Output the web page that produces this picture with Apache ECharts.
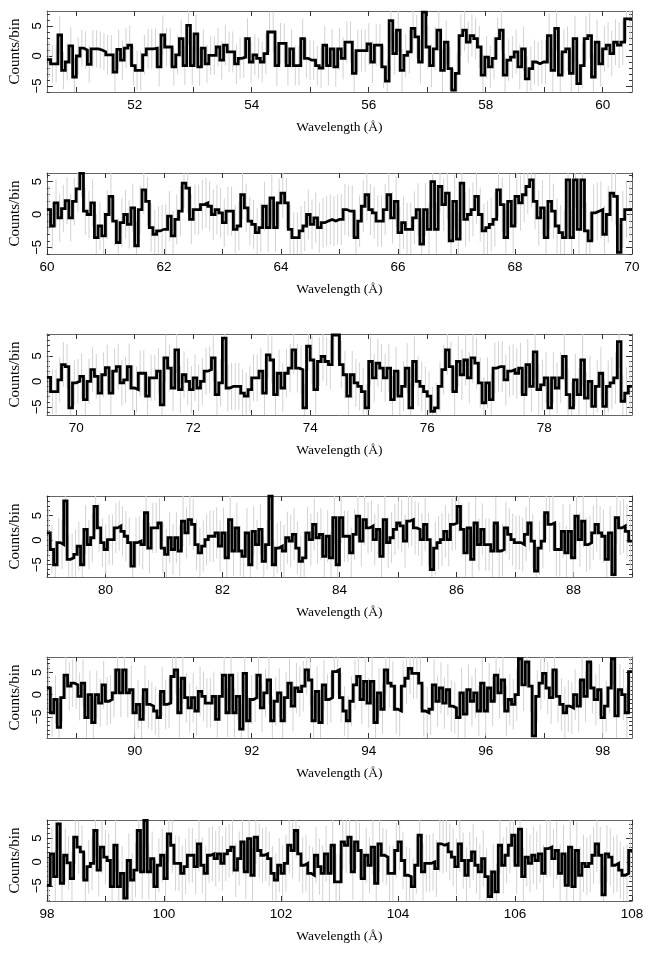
<!DOCTYPE html>
<html><head><meta charset="utf-8">
<script src="https://cdn.jsdelivr.net/npm/echarts@6/dist/echarts.min.js"></script>
<style>html,body{margin:0;padding:0;background:#fff}#c{width:652px;height:953px}</style>
</head><body><div id="c"></div>
<script>
// Panel wavelength starts (each panel spans 10 Å)
const panelStart = [50.5, 60, 69.5, 79, 88.5, 98];
const panelSpan = 10;
// y ranges (Counts/bin)
const yMin = [-6, -6, -6.6, -7.5, -9.8, -8.2];
const yMax = [7.5, 6.3, 9.3, 9, 8.5, 8.8];
const yTickValues = [-5, 0, 5];

// Counts per bin
const counts1 = [-0.6,-1.3,-1.3,3.5,-2.4,-1,1.7,-3.5,0,1.3,1.0,-1.4,1.2,1.2,1.0,0.7,0.2,0.2,-2.7,1.1,-0.7,1.3,1.8,-1.6,-2.4,-2.4,0.2,1.2,1.2,1.3,-1.8,3.5,1.5,1.5,-1.8,0.2,2.9,-1.6,5.1,-1.6,3.7,-1.8,1.3,-1.3,0.1,0.1,1.5,-0.7,1.8,0.7,0.7,-1.3,-0.4,-0.2,2.9,-1,0.2,-0.4,-1,0.4,4,4,-1.6,2.1,2.1,-1.6,1.2,-1.6,-1.6,2.9,-0.4,-0.7,-0.7,-1.6,-2,
1.8,-1.6,1.2,-1.8,1.2,-0.4,2.3,2.3,-2.9,0.9,0.9,0.9,2,-1,1.8,1.8,
-1.8,-4.2,5.9,0.4,4.3,-2.4,0.1,0.7,4.6,3.2,-1,7.3,1.5,-1.6,1.2,4.3,-2.4,2.3,-2.1,-5.7,-2.9,3.4,4.3,2.3,3.4,2.9,1.5,-3.2,-0.2,-1.8,-0.4,2.9,4.3,-3.2,-0.7,-0.2,0.7,-1.8,1.2,-3.8,-2.1,-1,-1.3,-1,-1,3.4,-2.4,4.6,-3.2,0.7,1.2,-2.9,2.9,-4.6,-1.6,2.9,3.4,-3.5,2.3,-1.3,1.2,1.8,0.4,2.3,1.8,2.3,6.2,6.2];
const counts2 = [0.75,-1.75,1.75,-0.5,0.9,2.1,-0.5,2,3.9,6.25,0.5,0,1.75,-3.5,-1.75,-3.25,0,2.75,-1,-4.25,-1.25,0,-1.5,1,-4.75,0.75,3.75,2,-2,-3,-2.5,-2.25,-2.25,-0.25,-3.25,-0.75,0.5,4.75,4,-0.75,0.75,0.75,1.5,1.75,1.25,0,0.75,0.25,-1.25,0.5,0.5,-2.25,-1.75,3,1,-1,-1.5,-2.75,-2,1.25,-2,2.5,-2,1.75,3.25,1.75,-2.25,-3.5,-3.5,-2.5,-1.75,0,-1.5,-0.5,-2,-1.25,-1,-0.75,-1,-0.75,
-0.75,0.75,0.5,0.5,-3.5,-1,1.25,3,0.75,0.25,-1,-1,0.75,3,-0.5,2,-2.75,-1.25,-2.25,-2.25,-0.5,0.75,-4.5,0.75,-2.25,5,-2.25,4.25,1.5,3.25,-4,2,-3.75,4.75,-0.75,0,0.75,2.75,0,-2.5,-2,-1.5,-0.75,3.75,1.5,-3.5,2,-1.75,2.75,1.75,3,4.25,5.25,2,-0.5,1,-3.5,2,0.5,-1.75,-2.75,-3.5,5.25,-3.5,5.25,-2.25,5.25,-2.5,-4,0.25,0.5,0.75,-3,0,3.25,2.75,-5.75,-0.75,0.75,0.75];
const counts3 = [0.8,-2,-2,0.3,3.3,2.9,-5.2,-0.3,0,1,-3.6,0,2.3,1,-2.3,1.3,2.7,-2.3,2,2.9,-0.3,0.3,2.9,-1.3,-1.6,1.6,1.6,-2.9,0.7,0.7,2,-4.6,4.6,2.6,-1.3,6.2,-1.6,1.3,0,-1.6,0.7,-1.3,0,2,2.3,4.6,-2.6,-0.3,8.5,-1.3,-1,-1,-1,-2.3,-2.9,-1.6,0.7,0.7,2,-2.3,5.2,4.2,-2.6,1.6,-1.3,1.6,2.6,6.2,2.6,2.3,-5.2,6.9,4.2,-1.6,3.9,4.9,3.9,3.3,9.1,9.1,
3.3,1.3,-2.9,1.3,-0.3,-1,-2,-5.2,3.9,0.7,3.6,2.6,0.7,2.6,-3.6,2,-2.9,-1,2.6,-5.2,3.9,0,-1,-2,-2.9,-5.9,-5.2,-1,2.3,6.2,2.9,-2,3.9,1.3,4.2,0.7,4.6,3.6,-0.3,-4.2,-0.3,-3.6,2.6,2.9,2.9,0.3,2,2.3,1.6,2.6,-2.6,3.3,-1,5.8,-1.6,-0.7,0.7,-5.2,0.7,-1.3,0.7,4.9,-2.6,-5.2,0.3,-2.6,4.2,-3.3,0,-4.9,-1,1.6,-4.9,-1,-0.3,0.7,7.8,-3.9,-2.3,-1];
const counts4 = [1.5,-1.9,-5,-0.5,-0.9,8,-3.9,-3.6,-2.9,-1.2,-5,2.2,-0.9,0.5,6.9,2.5,-0.5,-1.9,0.1,0.1,2.5,2.9,1.8,0.8,-0.5,-5.3,-0.5,-0.2,-0.9,5.6,-1.6,2.5,2.5,3.5,-1.6,-2.9,0.5,-1.9,0.5,-2.2,3.9,1.5,4.2,3.2,-0.9,-2.6,-1.2,0.1,0.8,0.8,1.5,-1.2,1.5,-3.6,4.2,-2.2,2.5,-2.2,-3.3,1.5,-5,1.8,-0.9,2.2,-4.3,-0.9,9,-5,-1.6,-1.2,-2.2,0.5,-0.2,1.2,-1.6,-4.3,-3.6,1.5,0.1,3.2,0.5,1.2,-3.3,0.8,-3.6,4.6,-5,4.6,
0.8,0.8,-2.6,1.2,4.9,-0.2,4.2,2.5,2.9,0.1,2.2,-3.3,4.2,-0.5,0.5,2.2,3.5,2.9,-0.2,3.9,4.2,2.5,2.2,0.1,3.2,0.1,-6,-1.6,-0.5,0.1,1.8,0.1,3.2,3.5,6.9,2.2,-2.6,2.5,-3.9,3.5,-0.9,2.2,-0.9,-0.9,-2.2,3.5,-2.2,-1.9,2.5,1.2,0.1,-0.5,-0.5,-0.9,1.2,3.5,-0.2,-6.3,-1.6,-0.2,5.6,3.2,3.5,-1.9,-1.9,1.8,-2.6,1.8,-3.6,4.9,0.1,3.9,-0.9,-0.5,1.5,3.2,1.5,0.8,-3.9,1.5,-7,4.6,2.5,2.9,1.8,-0.2];
const counts5 = [1.5,-4.1,-1.1,-7.4,-0.7,4.4,1.9,2.6,2.2,-0.4,2.6,-5.2,0,-6.3,0,-1.9,2.2,-1.5,-1.1,0.4,5.6,0.4,5.6,0.4,1.1,-4.1,-2.2,-5.6,1.1,-2.2,-2.6,-3.7,-5.2,0.7,-2.2,-1.9,4.1,5.6,-4.1,3.7,-0.7,-3,-0.7,-3.7,0.7,-0.4,-1.9,-1.9,-0.4,-5.6,-0.4,4.4,-4.1,4.4,-4.1,-0.4,-7.8,4.8,-5.9,-1.1,-0.7,4.4,-3,0.4,3.3,-5.9,-1.5,0.4,-5.9,-0.7,2.6,-2.6,1.5,0.7,1.9,5.6,3.3,-5.9,0.7,-6.3,2.2,-1.1,-0.7,5.2,
5.6,-0.7,-3.7,-5.9,-1.5,2.2,4.1,-1.1,3,-1.9,3,-6.3,0.4,-3.3,5.6,2.6,1.9,-3.3,-3.7,1.9,3.7,5.9,4.8,4.8,2.6,-3.7,-4.1,-3.3,2.2,-1.5,1.5,-1.9,1.1,-2.6,-3,-5.2,0.4,-4.4,1.1,-1.5,0.4,-3.7,2.6,-3.7,1.5,-1.5,4.4,0.4,3.3,-3.7,-1.1,-2.2,0,8.1,2.2,7.4,1.9,-9.3,-0.4,2.6,4.8,1.5,-0.7,5.6,-0.4,-2.2,-4.1,-2.6,-3,0,-2.6,3.3,-0.4,7.4,1.5,-1.1,1.1,-5.2,-2.6,1.5,8.1,-4.8,1.1,0,-4.1,5.2];
const counts6 = [-4.9,1.7,-3.1,8,-4.5,1.4,-0.2,-3.5,5.2,3.1,2.1,-3.8,-1,-0.3,6.6,-1.7,3.1,1,0.3,-5.2,3.5,-5.2,-2.4,-7.6,0.3,-3.8,-1.7,6.6,-2.1,8.7,-2.1,0.7,-5.2,-0.7,1.4,-3.5,5.9,3.5,-0.3,-0.3,-2.4,-1,1.4,1.4,-1,3.8,-0.7,-2.4,1.4,1.7,0.7,1.7,-0.3,1.7,2.4,3.1,-1.7,0.7,4.2,-2.1,4.9,-2.8,5.2,2.4,1.4,1.7,0.7,-2.4,-3.8,-0.7,-2.4,-0.3,3.5,2.4,6.6,1.7,-0.7,-0.3,-2.4,-2.8,1.4,-1,-2.4,1.7,-2.4,3.5,-4.2,-4.2,
4.2,3.5,5.2,-2.1,4.2,2.4,-3.5,1.4,-0.7,3.1,-4.5,3.8,1.4,1,-2.4,-2.4,2.4,4.2,0.3,-2.8,-3.1,-5.2,-0.7,5.6,-2.1,-0.3,-0.3,0,-1.4,3.8,3.5,3.8,2.1,1,-1,3.8,0.3,-2.8,0.3,2.1,-0.7,-2.1,0.7,-3.1,-7.3,-2.1,-6.3,3.5,-0.7,1.4,3.5,5.6,-0.7,6.9,-3.1,1,-0.3,1.4,0.3,1.7,-2.4,2.8,3.1,0.7,2.4,-2.4,1.7,-4.9,3.1,-5.2,2.4,-2.8,-0.3,-1,-0.3,1.4,3.8,1.4,-6.9,1.7,1,-0.7,-0.3,-1.7,-2.8,-2.4,2.4];

// 1-sigma error per Ångström of each panel (gray error bars)
const err1 = [3.1,3.3,3.2,3.4,3.3,3.5,3.6,3.5,3.7,3.8];
const err2 = [3.6,3.7,3.8,3.7,3.8,3.9,4.0,4.1,4.2,4.3];
const err3 = [4.4,4.5,4.6,4.6,4.8,4.7,4.9,5.0,5.0,5.1];
const err4 = [5.0,5.1,5.2,5.1,5.3,5.2,5.4,5.3,5.5,5.5];
const err5 = [5.4,5.5,5.6,5.5,5.7,5.6,5.8,5.7,5.9,5.8];
const err6 = [5.6,5.7,5.8,5.7,5.9,5.8,6.0,5.9,6.1,6.0];

const xTitle = 'Wavelength (Å)';
const yTitle = 'Counts/bin';

const countsAll = [counts1, counts2, counts3, counts4, counts5, counts6];
const errAll = [err1, err2, err3, err4, err5, err6];

// ---- layout / style ----
const gridTops = [11, 173, 334, 496, 657, 820];
const gridH = 81;
const frameColor = '#666';
const sansFont = 'Liberation Sans, Arial, sans-serif';
const serifFont = 'Liberation Serif, Times New Roman, serif';

const option = { animation: false, grid: [], xAxis: [], yAxis: [], series: [] };

function intsBetween(a, b, step) {
  const out = [];
  for (let v = Math.ceil(a / step) * step; v <= b + 1e-9; v += step) out.push(+v.toFixed(6));
  return out;
}
const minusFmt = v => String(v).replace('-', '\u2212');

countsAll.forEach((vals, k) => {
  const s = panelStart[k], e = s + panelSpan;
  const n = vals.length, bw = panelSpan / n;
  option.grid.push({ left: 46, right: 20, top: gridTops[k], height: gridH });
  const xInts = intsBetween(s, e, 1);
  const xLab = intsBetween(s, e, 2);
  option.xAxis.push({
    type: 'value', gridIndex: k, min: s, max: e, position: 'bottom',
    axisLine: { show: true, onZero: false, lineStyle: { color: frameColor, width: 1 } },
    axisTick: { show: true, inside: true, length: 5, customValues: xInts, lineStyle: { color: '#333' } },
    axisLabel: { customValues: xLab, color: '#000', fontFamily: sansFont, fontSize: 13.5, margin: 6 },
    splitLine: { show: false },
    name: xTitle, nameLocation: 'middle', nameGap: 28,
    nameTextStyle: { fontFamily: serifFont, fontSize: 13.5, color: '#000' }
  });
  option.xAxis.push({
    type: 'value', gridIndex: k, min: s, max: e, position: 'top',
    axisLine: { show: true, onZero: false, lineStyle: { color: frameColor, width: 1 } },
    axisTick: { show: true, inside: true, length: 5, customValues: xInts, lineStyle: { color: '#333' } },
    axisLabel: { show: false }, splitLine: { show: false }
  });
  const yMinor = intsBetween(yMin[k], yMax[k], 1);
  option.yAxis.push({
    type: 'value', gridIndex: k, min: yMin[k], max: yMax[k], position: 'left',
    axisLine: { show: true, onZero: false, lineStyle: { color: frameColor, width: 1 } },
    axisTick: { show: true, inside: true, length: 6, customValues: yTickValues, lineStyle: { color: '#333' } },
    axisLabel: { customValues: yTickValues, rotate: 90, color: '#000', fontFamily: sansFont, fontSize: 13, margin: 3, formatter: minusFmt },
    splitLine: { show: false },
    name: yTitle, nameLocation: 'middle', nameGap: 21, nameRotate: 90,
    nameTextStyle: { fontFamily: serifFont, fontSize: 15, color: '#000' }
  });
  option.yAxis.push({
    type: 'value', gridIndex: k, min: yMin[k], max: yMax[k], position: 'left',
    axisLine: { show: false },
    axisTick: { show: true, inside: true, length: 3, customValues: yMinor, lineStyle: { color: '#333' } },
    axisLabel: { show: false }, splitLine: { show: false }
  });
  option.yAxis.push({
    type: 'value', gridIndex: k, min: yMin[k], max: yMax[k], position: 'right',
    axisLine: { show: true, onZero: false, lineStyle: { color: frameColor, width: 1 } },
    axisTick: { show: true, inside: true, length: 6, customValues: yTickValues, lineStyle: { color: '#333' } },
    axisLabel: { show: false }, splitLine: { show: false }
  });
  option.yAxis.push({
    type: 'value', gridIndex: k, min: yMin[k], max: yMax[k], position: 'right',
    axisLine: { show: false },
    axisTick: { show: true, inside: true, length: 3, customValues: yMinor, lineStyle: { color: '#333' } },
    axisLabel: { show: false }, splitLine: { show: false }
  });

  const errData = vals.map((v, i) => {
    const c = s + (i + 0.5) * bw;
    const ei = Math.min(9, Math.floor(c - s));
    return [c, v, errAll[k][ei]];
  });
  const lo = yMin[k], hi = yMax[k];
  option.series.push({
    type: 'custom', xAxisIndex: 2 * k, yAxisIndex: 4 * k, clip: true, silent: true, z: 1,
    data: errData,
    renderItem: (params, api) => {
      const x = api.value(0), y = api.value(1), er = api.value(2);
      const a = api.coord([x, Math.max(lo, y - er)]);
      const b = api.coord([x, Math.min(hi, y + er)]);
      return { type: 'line', shape: { x1: a[0], y1: a[1], x2: b[0], y2: b[1] },
               style: { stroke: '#d2d2d2', lineWidth: 1 } };
    }
  });
  const stepData = vals.map((v, i) => [s + i * bw, v]);
  stepData.push([e, vals[n - 1]]);
  option.series.push({
    type: 'line', xAxisIndex: 2 * k, yAxisIndex: 4 * k, step: 'end', z: 3,
    data: stepData, showSymbol: false, symbol: 'none', clip: true, silent: true,
    lineStyle: { color: '#000', width: 2.8, join: 'miter' }
  });
});

const chart = echarts.init(document.getElementById('c'), null, { renderer: 'canvas' });
chart.setOption(option);
</script>
</body></html>
